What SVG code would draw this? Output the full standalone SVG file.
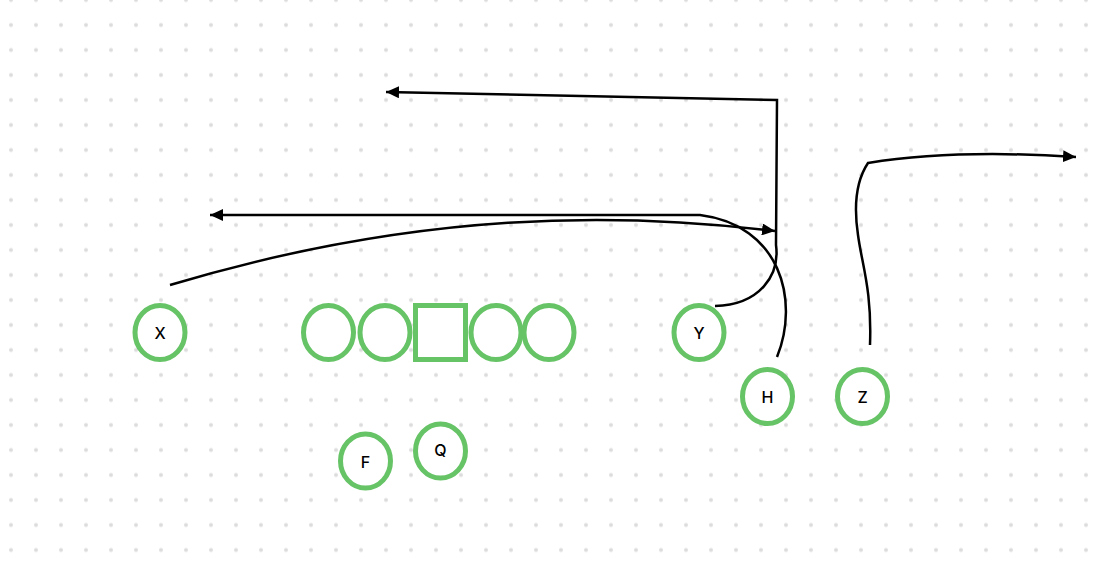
<svg xmlns="http://www.w3.org/2000/svg" width="1104" height="562" viewBox="0 0 1104 562">
  <defs>
    <pattern id="dots" x="-1" y="-12.5" width="25" height="25" patternUnits="userSpaceOnUse">
      <circle cx="12" cy="12.5" r="2" fill="#dcdcdc"/>
    </pattern>
    <marker id="arrow" viewBox="0 0 13 12" refX="13" refY="6" markerWidth="13" markerHeight="12" markerUnits="userSpaceOnUse" orient="auto">
      <path d="M0,0 L13,6 L0,12 Z" fill="#000"/>
    </marker>
  </defs>
  <style>
    .player { fill: #fff; stroke: #66c366; stroke-width: 5; }
    .label { font-family: Inter, "Liberation Sans", sans-serif; font-size: 16px; font-weight: 500; fill: #000; text-anchor: middle; dominant-baseline: central; }
    .route { fill: none; stroke: #000; stroke-width: 2.5; stroke-linejoin: miter; }
  </style>
  <rect width="1104" height="562" fill="#fff"/>
  <rect width="1104" height="562" fill="url(#dots)"/>

  <g id="connectors">
    <path class="route" d="M715,306 C760,305 780,275 776,245 L777,100 L386,92" marker-end="url(#arrow)"/>
    <path class="route" d="M170,285 C420,210 620,212 775,231" marker-end="url(#arrow)"/>
    <path class="route" d="M777,357 C800,300 780,225 700,215 L210,215" marker-end="url(#arrow)"/>
    <path class="route" d="M870,345 C872,290 862,265 858,235 C852,195 860,175 868,163 C930,153 1000,152 1076,157" marker-end="url(#arrow)"/>
  </g>

  <g id="node-X"><ellipse class="player" cx="160" cy="332.5" rx="25" ry="27"/><text class="label" x="160" y="332.5">X</text></g>
  <g id="node-LT"><ellipse class="player" cx="328.5" cy="332.5" rx="25" ry="27"/></g>
  <g id="node-LG"><ellipse class="player" cx="385" cy="332.5" rx="25" ry="27"/></g>
  <g id="node-C"><rect class="player" x="415.5" y="305.5" width="50" height="54"/></g>
  <g id="node-RG"><ellipse class="player" cx="496" cy="332.5" rx="25" ry="27"/></g>
  <g id="node-RT"><ellipse class="player" cx="549" cy="332.5" rx="25" ry="27"/></g>
  <g id="node-Y"><ellipse class="player" cx="699" cy="332.5" rx="25" ry="27"/><text class="label" x="699" y="332.5">Y</text></g>
  <g id="node-H"><ellipse class="player" cx="767.5" cy="396.5" rx="25" ry="27"/><text class="label" x="767.5" y="397">H</text></g>
  <g id="node-Z"><ellipse class="player" cx="862.5" cy="396.5" rx="25" ry="27"/><text class="label" x="862.5" y="397">Z</text></g>
  <g id="node-F"><ellipse class="player" cx="365.5" cy="461" rx="25" ry="27"/><text class="label" x="365.5" y="461.5">F</text></g>
  <g id="node-Q"><ellipse class="player" cx="440.5" cy="451" rx="25" ry="27"/><text class="label" x="440.5" y="450">Q</text></g>
</svg>
